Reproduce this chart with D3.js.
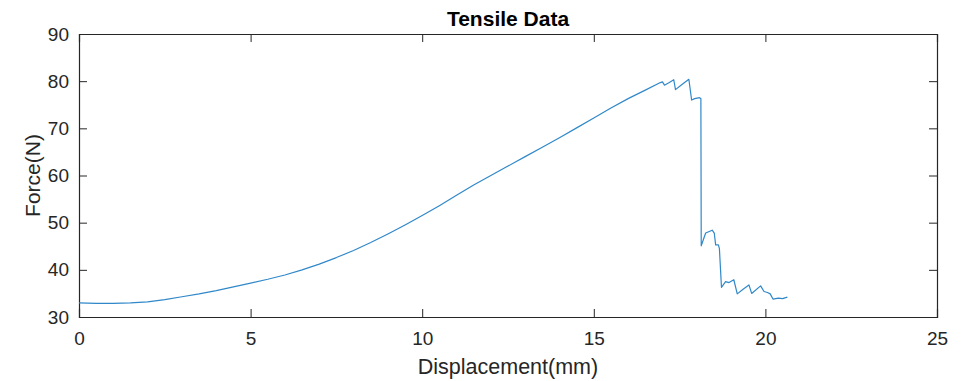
<!DOCTYPE html>
<html><head><meta charset="utf-8">
<script src="https://cdn.jsdelivr.net/npm/d3@7"></script>
<style>body{margin:0;background:#fff}svg{display:block}</style>
</head><body>
<script>
// Data
const displacement = [0,0.5,1.0,1.5,2.0,2.5,3.0,3.5,4.0,4.5,5.0,5.5,6.0,6.5,7.0,7.5,8.0,8.5,9.0,9.5,10.0,10.5,11.0,11.5,12.0,12.5,13.0,13.5,14.0,14.5,15.0,15.5,16.0,16.5,16.94,17.0,17.06,17.2,17.33,17.38,17.55,17.77,17.85,17.94,18.08,18.12,18.13,18.26,18.45,18.51,18.55,18.63,18.66,18.72,18.84,18.94,19.08,19.18,19.35,19.52,19.6,19.86,19.96,20.06,20.14,20.22,20.38,20.5,20.64];
const force =        [33.0,32.9,32.9,33.0,33.2,33.7,34.3,34.9,35.6,36.4,37.2,38.0,38.9,40.0,41.2,42.6,44.1,45.8,47.6,49.5,51.5,53.6,55.8,58.0,60.0,62.0,64.0,66.0,68.0,70.1,72.2,74.3,76.3,78.1,79.7,79.85,79.15,79.7,80.3,78.2,79.2,80.4,76.0,76.3,76.5,76.3,45.1,47.8,48.4,47.8,45.3,45.3,44.5,36.3,37.5,37.3,37.9,34.9,35.9,36.8,35.0,36.6,35.4,35.2,34.9,33.8,34.0,33.9,34.2];
const xTicks = [0,5,10,15,20,25];
const yTicks = [30,40,50,60,70,80,90];
const titleText = "Tensile Data";
const xLabel = "Displacement(mm)";
const yLabel = "Force(N)";

const W = 965, H = 381;
const m = {left:79, right:W-937, top:34, bottom:H-317};
const svg = d3.select("body").append("svg").attr("width",W).attr("height",H)
  .style("font-family","'Liberation Sans', Arial, Helvetica, sans-serif");

const x = d3.scaleLinear().domain([0,25]).range([m.left, W-m.right]);
const y = d3.scaleLinear().domain([30,90]).range([H-m.bottom, m.top]);
const axisColor = "#262626";
const tl = 8;

const gx = svg.append("g").attr("transform",`translate(0,${y(30)})`)
  .call(d3.axisBottom(x).tickValues(xTicks).tickSize(-tl).tickPadding(15).tickFormat(d3.format("d")));
const gxt = svg.append("g").attr("transform",`translate(0,${y(90)})`)
  .call(d3.axisTop(x).tickValues(xTicks).tickSize(-tl).tickFormat(""));
const gy = svg.append("g").attr("transform",`translate(${x(0)},0)`)
  .call(d3.axisLeft(y).tickValues(yTicks).tickSize(-tl).tickPadding(10).tickFormat(d3.format("d")));
const gyr = svg.append("g").attr("transform",`translate(${x(25)},0)`)
  .call(d3.axisRight(y).tickValues(yTicks).tickSize(-tl).tickFormat(""));

[gx,gxt,gy,gyr].forEach(g=>{
  g.select(".domain").attr("stroke",axisColor).attr("stroke-width",1.2);
  g.selectAll(".tick line").attr("stroke",axisColor).attr("stroke-width",1);
  g.selectAll(".tick text").attr("fill",axisColor).style("font-size","19px");
});

const pts = displacement.map((d,i)=>[d,force[i]]);
svg.append("path").datum(pts)
  .attr("fill","none").attr("stroke","#3088c9").attr("stroke-width",1.2)
  .attr("stroke-linejoin","round")
  .attr("d", d3.line().x(d=>x(d[0])).y(d=>y(d[1])));

svg.append("text").attr("x",(x(0)+x(25))/2).attr("y",26).attr("text-anchor","middle")
  .attr("fill","#000").style("font-size","21px").style("font-weight","bold").text(titleText);
svg.append("text").attr("x",(x(0)+x(25))/2).attr("y",374).attr("text-anchor","middle")
  .attr("fill",axisColor).style("font-size","21.5px").text(xLabel);
svg.append("text").attr("transform",`translate(40,${(y(30)+y(90))/2}) rotate(-90)`)
  .attr("text-anchor","middle").attr("fill",axisColor).style("font-size","21px").text(yLabel);
</script>
</body></html>
